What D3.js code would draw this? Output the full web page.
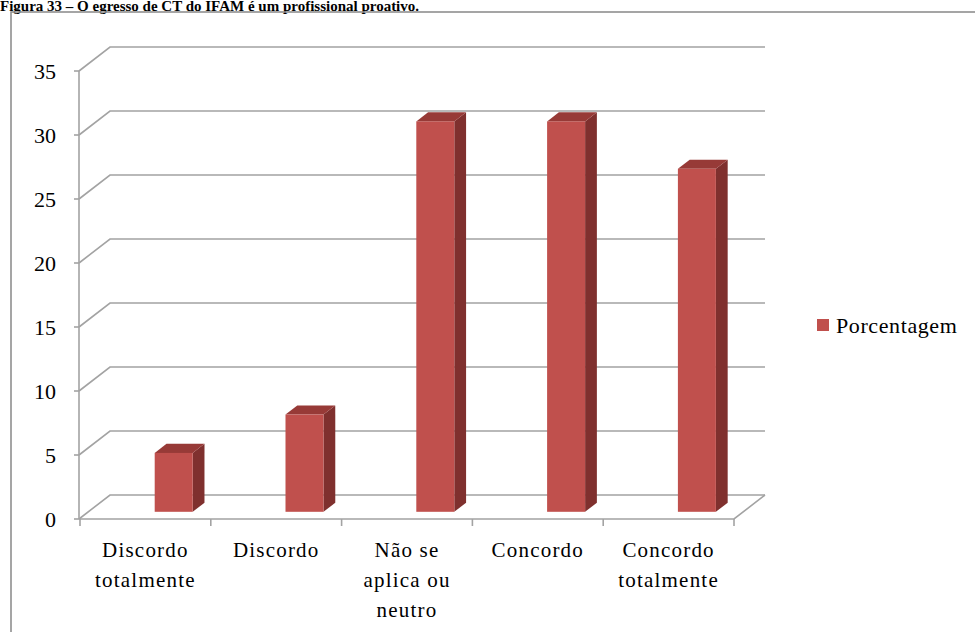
<!DOCTYPE html>
<html>
<head>
<meta charset="utf-8">
<script src="https://cdn.jsdelivr.net/npm/d3@7"></script>
<style>
  html, body { margin: 0; padding: 0; background: #fff; }
  svg { display: block; }
  text { font-family: "Times New Roman", "Liberation Serif", Times, serif; fill: #000; }
</style>
</head>
<body>
<svg id="chart" width="975" height="632"></svg>
<script>
// Respostas (%) — "O egresso de CT do IFAM é um profissional proativo."
const categories = [
  ["Discordo", "totalmente"],
  ["Discordo"],
  ["Não se", "aplica ou", "neutro"],
  ["Concordo"],
  ["Concordo", "totalmente"]
];
const values = [4.6, 7.6, 30.5, 30.5, 26.8];
const yTicks = [0, 5, 10, 15, 20, 25, 30, 35];
const seriesName = "Porcentagem";
const titleText = "Figura 33 – O egresso de CT do IFAM é um profissional proativo.";

const svg = d3.select("#chart");

// Front-plane scales plus an oblique offset for the 3-D depth
const x = d3.scaleBand().domain(d3.range(categories.length)).range([80, 734]).padding(0);
const y = d3.scaleLinear().domain([0, 35]).range([519, 71]);
const depth = { dx: 31, dy: -24 };
const barDepthStart = 0.3, barDepth = 0.38, barWidth = 38;

const gridColor = "#a3a3a3";

// Caption
svg.append("text")
  .attr("x", 0).attr("y", 11)
  .style("font-size", "15px").style("font-weight", "bold")
  .text(titleText);

// Outer frame
svg.append("rect")
  .attr("x", 11).attr("y", 12).attr("width", 990).attr("height", 660)
  .attr("fill", "none").attr("stroke", "#8f8f8f").attr("stroke-width", 1.6);

const grid = svg.append("g").attr("fill", "none").attr("stroke", gridColor).attr("stroke-width", 1.6);

// Side wall + back wall gridlines
yTicks.forEach(t => {
  const yy = y(t);
  grid.append("path").attr("d", d3.line()([
    [x.range()[0] - 1, yy],
    [x.range()[0] - 1 + depth.dx, yy + depth.dy],
    [x.range()[1] + depth.dx, yy + depth.dy]
  ]));
});

// Floor: front edge, right edge
grid.append("path").attr("d", d3.line()([
  [x.range()[0] - 1, y(0)],
  [x.range()[1], y(0)],
  [x.range()[1] + depth.dx, y(0) + depth.dy]
]));

// Value axis line and ticks
grid.append("line")
  .attr("x1", x.range()[0] - 1).attr("x2", x.range()[0] - 1)
  .attr("y1", y(35)).attr("y2", y(0));
yTicks.forEach(t => {
  grid.append("line")
    .attr("x1", x.range()[0] - 6).attr("x2", x.range()[0] - 1)
    .attr("y1", y(t)).attr("y2", y(t));
});

// Category ticks
d3.range(categories.length + 1).forEach(i => {
  const xx = i < categories.length ? x(i) : x.range()[1];
  grid.append("line")
    .attr("x1", xx).attr("x2", xx)
    .attr("y1", y(0)).attr("y2", y(0) + 7);
});

// Value labels
svg.append("g").selectAll("text").data(yTicks).join("text")
  .attr("x", 56).attr("y", d => y(d))
  .attr("dy", "0.35em")
  .attr("text-anchor", "end")
  .style("font-size", "22px")
  .text(d => d);

// 3-D columns
const colors = { front: "#c0504d", side: "#7f302e", top: "#973a37" };
const bars = svg.append("g");
values.forEach((v, i) => {
  const ox = depth.dx * barDepthStart, oy = depth.dy * barDepthStart;
  const sx = depth.dx * barDepth, sy = depth.dy * barDepth;
  const x0 = x(i) + x.bandwidth() / 2 + ox;
  const x1 = x0 + barWidth;
  const yb = y(0) + oy;
  const yt = y(v) + oy;
  const line = d3.line();
  // side face
  bars.append("path").attr("fill", colors.side)
    .attr("d", line([[x1, yb], [x1, yt], [x1 + sx, yt + sy], [x1 + sx, yb + sy]]) + "Z");
  // top face
  bars.append("path").attr("fill", colors.top)
    .attr("d", line([[x0, yt], [x1, yt], [x1 + sx, yt + sy], [x0 + sx, yt + sy]]) + "Z");
  // front face
  bars.append("rect").attr("fill", colors.front)
    .attr("x", x0).attr("y", yt).attr("width", barWidth).attr("height", yb - yt);
});

// Category labels
const catG = svg.append("g");
categories.forEach((lines, i) => {
  const t = catG.append("text")
    .attr("x", x(i) + x.bandwidth() / 2)
    .attr("text-anchor", "middle")
    .style("font-size", "21px")
    .style("letter-spacing", "1.2px");
  lines.forEach((ln, j) => {
    t.append("tspan").attr("x", x(i) + x.bandwidth() / 2).attr("y", 557 + j * 30).text(ln);
  });
});

// Legend
svg.append("rect").attr("x", 817).attr("y", 319).attr("width", 12).attr("height", 12).attr("fill", colors.front);
svg.append("text").attr("x", 836).attr("y", 333)
  .style("font-size", "22px").style("letter-spacing", "0.6px")
  .text(seriesName);
</script>
</body>
</html>
